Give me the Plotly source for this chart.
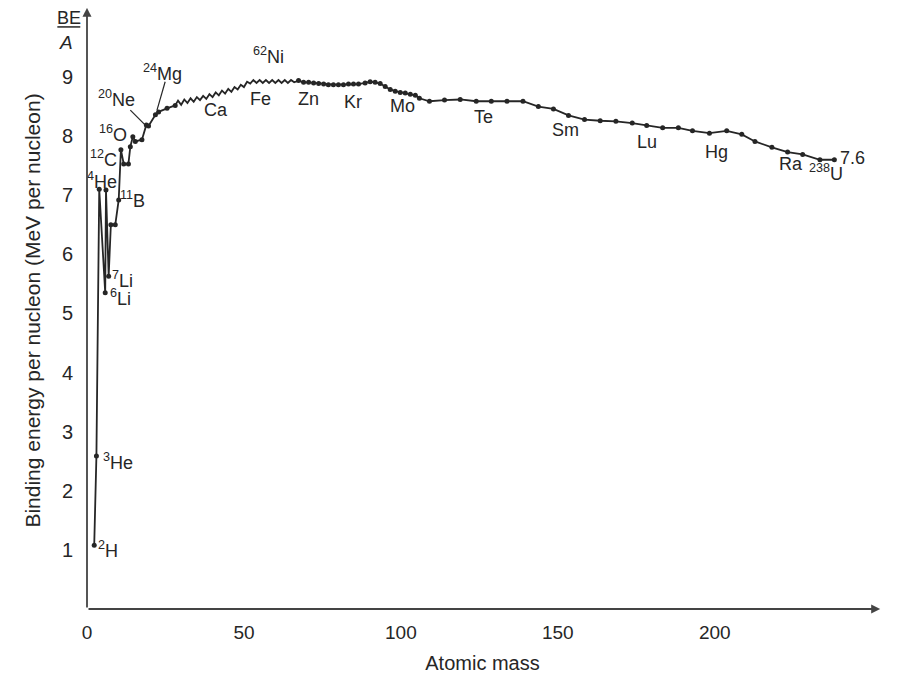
# Binding energy per nucleon curve

import plotly.graph_objects as go

# Light nuclei, in the order the curve is drawn (A, BE/A in MeV)
light_mass = [2.3, 3.0, 3.9, 5.8, 6.05, 6.9, 7.6, 9.0, 10.1, 10.8, 11.7, 13.2,
              13.8, 14.6, 15.4, 17.5, 18.9, 19.6, 21.8, 22.8, 25.5, 28.1]
light_be = [1.08, 2.59, 7.10, 5.35, 7.09, 5.63, 6.50, 6.50, 6.92, 7.77, 7.53, 7.53,
            7.82, 7.99, 7.91, 7.94, 8.19, 8.17, 8.36, 8.41, 8.47, 8.52]

# Zigzag part (odd / even A) from Ca up to Zn
zig_mass = [29, 30, 31, 32, 33, 34, 35, 36, 37, 38, 39, 40, 41, 42, 43, 44, 45,
            46, 47, 48, 49, 50, 51, 52, 53, 54, 55, 56, 57, 58, 59, 60, 61, 62,
            63, 64, 65, 66]
zig_be = [8.60, 8.53, 8.62, 8.56, 8.64, 8.58, 8.66, 8.61, 8.68, 8.63, 8.71, 8.66,
          8.74, 8.69, 8.77, 8.72, 8.80, 8.75, 8.83, 8.79, 8.87, 8.83, 8.92, 8.89,
          8.95, 8.90, 8.95, 8.90, 8.95, 8.90, 8.95, 8.90, 8.95, 8.90, 8.95, 8.90,
          8.95, 8.91]

# Heavier nuclei, smooth part of the curve
heavy_mass = [67.4, 69.0, 70.6, 72.2, 73.8, 75.4, 76.9, 78.5, 80.1, 81.7, 83.3,
              84.9, 86.5, 88.6, 90.2, 91.8, 93.4, 95.0, 96.6, 98.2, 99.8, 101.4,
              103.0, 104.6, 105.9, 109.1, 113.9, 118.9, 124.0, 128.8, 133.8, 138.9,
              143.8, 148.6, 153.4, 158.5, 163.5, 168.5, 173.7, 178.3, 183.4, 188.4,
              192.9, 198.3, 203.8, 208.6, 212.8, 218.2, 223.2, 228.0, 233.5, 238.1]
heavy_be = [8.94, 8.91, 8.91, 8.90, 8.89, 8.88, 8.87, 8.87, 8.87, 8.87, 8.88,
            8.88, 8.88, 8.90, 8.92, 8.91, 8.89, 8.84, 8.79, 8.76, 8.74, 8.73,
            8.71, 8.69, 8.64, 8.59, 8.61, 8.62, 8.59, 8.59, 8.59, 8.59,
            8.50, 8.46, 8.35, 8.28, 8.26, 8.25, 8.22, 8.18, 8.14, 8.14,
            8.09, 8.05, 8.09, 8.03, 7.91, 7.81, 7.73, 7.69, 7.60, 7.60]

# Labels on the curve: text, A, BE/A
label_text = ["<sup>2</sup>H", "<sup>3</sup>He", "<sup>4</sup>He", "<sup>6</sup>Li",
              "<sup>7</sup>Li", "<sup>11</sup>B", "<sup>12</sup>C", "<sup>16</sup>O",
              "<sup>20</sup>Ne", "<sup>24</sup>Mg", "<sup>62</sup>Ni", "Ca", "Fe",
              "Zn", "Kr", "Mo", "Te", "Sm", "Lu", "Hg", "Ra", "<sup>238</sup>U", "7.6"]
label_mass = [6.8, 9.8, 4.7, 10.6, 11.3, 14.4, 5.3, 8.4, 9.3, 24.0, 57.7, 41.2,
              55.2, 70.5, 84.8, 100.4, 126.2, 152.6, 178.4, 200.7, 224.3, 235.4, 243.8]
label_be = [1.0, 2.49, 7.25, 5.27, 5.58, 6.92, 7.62, 8.05, 8.63, 9.07, 9.36, 8.45,
            8.63, 8.63, 8.58, 8.51, 8.32, 8.10, 7.90, 7.73, 7.53, 7.38, 7.63]

# Leader lines for 20Ne and 24Mg: (A0, BE0, A1, BE1)
leaders = [(13.8, 8.44, 18.9, 8.17), (24.9, 8.92, 22.3, 8.44)]

font = "Liberation Sans, Arial, sans-serif"
ink = "#262626"

fig = go.Figure()

# zigzag part, line only, joined to its neighbours
fig.add_trace(go.Scatter(
    x=[light_mass[-1]] + zig_mass + [heavy_mass[0]],
    y=[light_be[-1]] + zig_be + [heavy_be[0]],
    mode="lines",
    line=dict(color=ink, width=1.8),
    showlegend=False, hoverinfo="skip"
))

fig.add_trace(go.Scatter(
    x=light_mass, y=light_be,
    mode="lines+markers",
    line=dict(color=ink, width=1.8),
    marker=dict(color=ink, size=5),
    showlegend=False
))

fig.add_trace(go.Scatter(
    x=heavy_mass, y=heavy_be,
    mode="lines+markers",
    line=dict(color=ink, width=1.8),
    marker=dict(color=ink, size=5),
    showlegend=False
))

annotations = []
for t, a, b in zip(label_text, label_mass, label_be):
    annotations.append(dict(x=a, y=b, text=t, showarrow=False,
                            font=dict(size=18, color=ink, family=font)))

# axis arrows
annotations.append(dict(x=252.7, y=0, ax=0, ay=0, xref="x", yref="y",
                        axref="x", ayref="y", showarrow=True, arrowhead=2,
                        arrowsize=1, arrowwidth=1.8, arrowcolor="#444", text=""))
annotations.append(dict(x=0, y=10.17, ax=0, ay=0, xref="x", yref="y",
                        axref="x", ayref="y", showarrow=True, arrowhead=2,
                        arrowsize=1, arrowwidth=1.8, arrowcolor="#444", text=""))

# axis letters
annotations.append(dict(x=250.4, y=-0.37, text="<i>A</i>", showarrow=False,
                        xanchor="center", yanchor="middle",
                        font=dict(size=19, color=ink, family=font)))
annotations.append(dict(x=-0.023, y=0.99, xref="paper", yref="paper", text="BE",
                        showarrow=False, xanchor="center", yanchor="middle",
                        font=dict(size=18, color=ink, family=font)))
annotations.append(dict(x=-0.027, y=0.949, xref="paper", yref="paper", text="<i>A</i>",
                        showarrow=False, xanchor="center", yanchor="middle",
                        font=dict(size=19, color=ink, family=font)))

shapes = [dict(type="line", xref="paper", yref="paper", x0=-0.0375, x1=-0.0085,
               y0=0.975, y1=0.975, line=dict(color=ink, width=1.5))]
for a0, b0, a1, b1 in leaders:
    shapes.append(dict(type="line", x0=a0, y0=b0, x1=a1, y1=b1,
                       line=dict(color=ink, width=1.2)))

# the page adds an 8 px body margin, so the plot box is moved up/left by 8 px
fig.update_layout(
    width=900, height=684,
    margin=dict(l=79, r=30, t=4, b=83, autoexpand=False),
    plot_bgcolor="white", paper_bgcolor="white",
    font=dict(family=font, color=ink, size=16),
    xaxis=dict(
        range=[0, 252], showgrid=False, zeroline=False, showline=False,
        tickvals=[0, 50, 100, 150, 200], ticks="", ticklabelstandoff=10,
        tickfont=dict(size=19), automargin=False,
        title=dict(text="Atomic mass", font=dict(size=20), standoff=13)
    ),
    yaxis=dict(
        range=[0, 10.1], showgrid=False, zeroline=False, showline=False,
        tickvals=[1, 2, 3, 4, 5, 6, 7, 8, 9], ticks="", ticklabelstandoff=13,
        tickfont=dict(size=20), automargin=False,
        title=dict(text="Binding energy per nucleon (MeV per nucleon)",
                   font=dict(size=21), standoff=15)
    ),
    annotations=annotations,
    shapes=shapes
)

fig.write_html("out.html")
